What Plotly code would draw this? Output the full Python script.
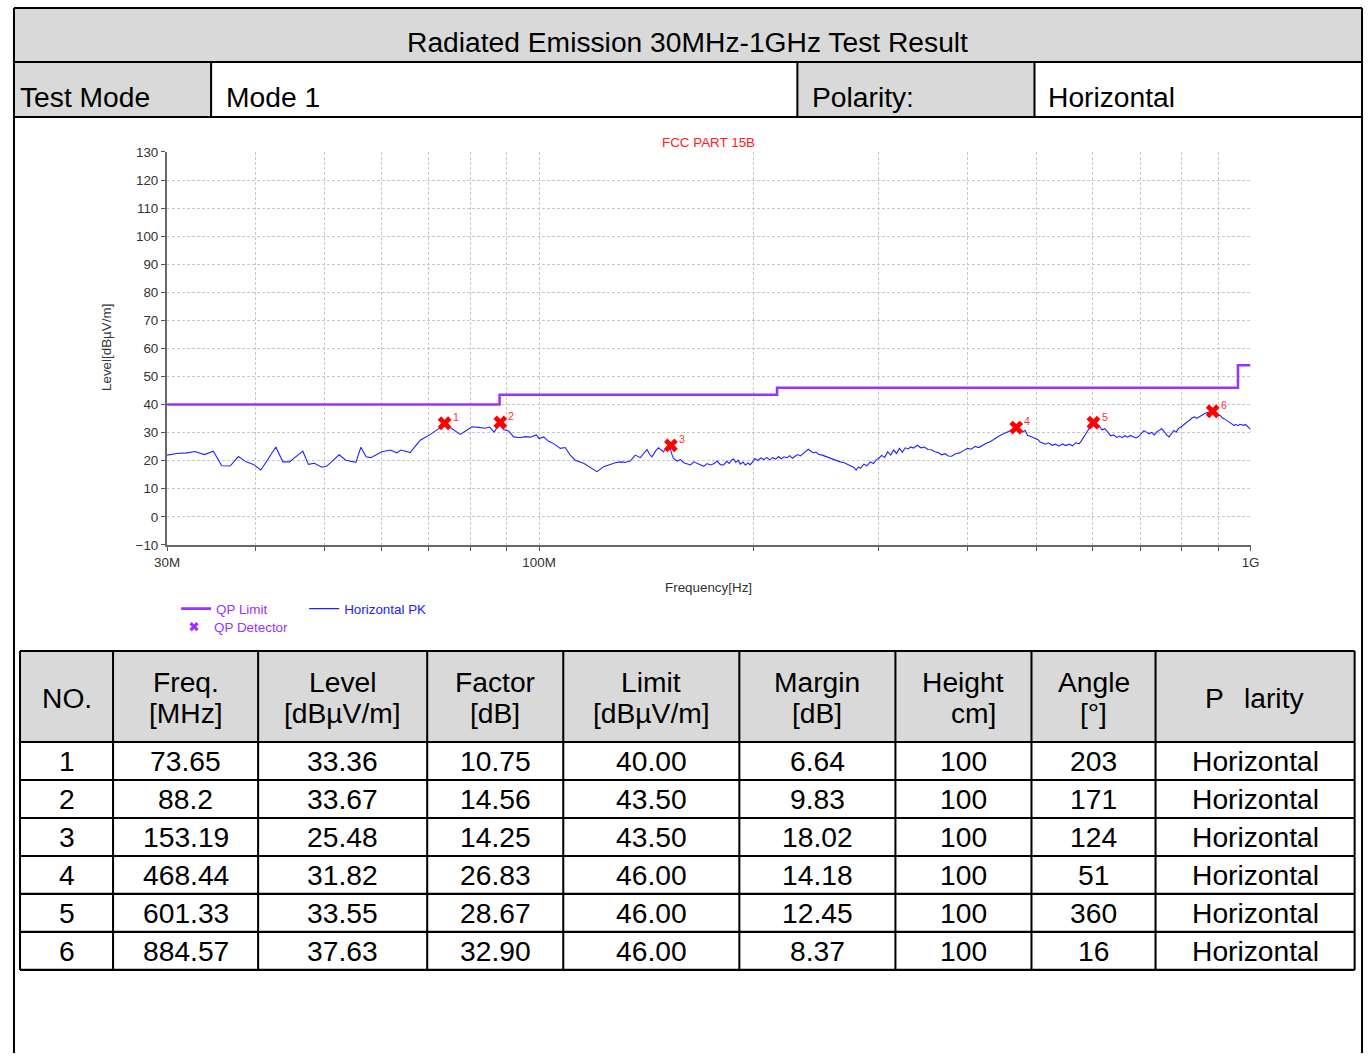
import math
import plotly.graph_objects as go

# The photographed picture shows the page shrunk a little and framed; positions are
# given in target-picture pixels and converted to page pixels below.
FW, FH = 1372, 1062
SX, SY = 0.9835, 0.986
OX, OY = 13.0, 7.0
S = (SX + SY) / 2
FONT = "Liberation Sans, Arial, sans-serif"

# ---------------- data ----------------
pk_freq = [
    30.0, 30.96, 31.98, 32.84, 33.85, 34.85, 35.81, 36.79, 37.79, 38.74,
    39.67, 40.63, 41.65, 42.66, 43.64, 44.57, 46.55, 47.4, 48.33, 49.51,
    50.31, 52.36, 53.5, 55.27, 56.17, 57.14, 58.02, 60.12, 61.76, 63.11,
    63.94, 65.89, 68.06, 70.3, 72.62, 73.6, 74.84, 76.2, 77.47, 78.7,
    80.46, 82.2, 84.0, 85.2, 86.5, 87.8, 89.1, 90.6, 92.1, 94.1,
    95.6, 97.2, 99.1, 100.0, 101.5, 103.1, 104.8, 107.1, 108.8, 110.6,
    112.4, 115.5, 118.0, 120.6, 123.2, 125.9, 128.0, 130.1, 132.0, 134.3,
    136.5, 138.8, 140.5, 141.8, 143.0, 144.1, 145.8, 147.2, 148.5, 149.6,
    151.3, 152.6, 153.5, 154.5, 156.3, 158.0, 159.7, 161.5, 163.2, 165.0,
    166.7, 168.5, 170.3, 172.2, 174.1, 176.0, 177.9, 179.8, 181.7, 183.5,
    185.0, 186.5, 187.7, 189.0, 190.5, 191.8, 193.5, 195.0, 196.5, 198.0,
    199.5, 201, 203, 205, 207, 209, 211, 213, 215, 217,
    219, 221, 223, 225, 227, 229, 231, 233, 235, 237,
    239, 241, 243, 245, 247, 250, 253, 256, 259, 262,
    265, 268, 271, 274, 277, 279, 281, 283, 286, 289,
    292, 295, 298, 300, 303, 306, 309, 312, 315, 318,
    321, 324, 327, 330, 333, 336, 340, 344, 348, 352,
    356, 360, 364, 368, 372, 376, 380, 385, 390, 395,
    400, 405, 410, 415, 420, 425, 430, 435, 440, 445,
    450, 455, 460, 465, 470, 474, 478, 482, 486, 490,
    494, 498, 502, 506, 510, 515, 520, 526, 532, 538,
    544, 550, 556, 562, 568, 574, 578, 584, 590, 596,
    601, 606, 612, 618, 624, 630, 636, 642, 648, 654,
    660, 666, 672, 678, 684, 690, 696, 702, 708, 714,
    720, 726, 732, 738, 744, 750, 756, 762, 768, 774,
    780, 786, 792, 798, 804, 810, 816, 822, 828, 834,
    840, 846, 852, 858, 864, 870, 876, 882, 888, 894,
    900, 906, 912, 918, 924, 930, 936, 942, 948, 954,
    960, 966, 972, 978, 984, 990, 996, 1000,
]
pk_level = [
    22.0, 22.6, 22.8, 23.3, 22.2, 23.4, 18.2, 18.1, 21.5, 19.6,
    18.7, 16.7, 20.8, 24.9, 19.6, 19.6, 23.4, 18.7, 19.1, 17.7,
    18.1, 22.1, 20.2, 19.4, 24.8, 21.4, 21.1, 23.2, 23.8, 22.8,
    23.8, 22.9, 27.3, 29.3, 31.8, 32.8, 32.0, 30.5, 29.4, 30.5,
    32.1, 31.9, 31.6, 32.0, 30.2, 33.0, 31.1, 30.6, 28.5, 28.2,
    28.6, 28.4, 29.2, 27.9, 28.5, 26.9, 26.1, 24.4, 24.7, 22.0,
    20.2, 19.1, 17.5, 16.1, 17.9, 18.7, 19.3, 19.6, 19.4, 19.9,
    22.0, 21.1, 22.6, 24.0, 22.3, 21.4, 23.5, 24.6, 23.8, 23.2,
    24.9, 25.3, 22.6, 20.8, 19.9, 20.4, 19.3, 19.0, 18.5, 19.6,
    19.1, 18.3, 18.0, 19.0, 18.5, 18.9, 19.9, 18.6, 18.5, 19.8,
    19.0, 20.3, 20.6, 19.4, 20.2, 18.8, 19.5, 18.4, 19.2, 18.6,
    19.5, 20.8, 20.1, 21.0, 20.4, 21.2, 20.3, 21.1, 20.6, 21.5,
    20.7, 21.4, 21.0, 21.8, 20.9, 21.6, 22.2, 21.7, 22.6, 23.2,
    24.1, 23.4, 22.8, 23.1, 22.3, 22.0, 21.5, 21.2, 20.6, 20.2,
    19.6, 19.4, 18.7, 18.3, 17.6, 16.7, 17.8, 17.3, 18.8, 18.2,
    19.6, 19.0, 20.4, 20.8, 21.9, 21.2, 23.2, 22.0, 23.8, 22.6,
    24.4, 23.0, 24.6, 24.2, 24.9, 24.5, 25.5, 24.6, 24.9, 24.0,
    23.9, 23.2, 22.9, 22.1, 22.5, 21.7, 21.6, 22.5, 22.8, 23.6,
    24.4, 24.1, 25.1, 24.7, 25.5, 26.2, 26.7, 27.6, 28.2, 29.1,
    29.6, 30.3, 30.9, 31.4, 31.6, 31.0, 30.2, 30.8, 29.0, 28.7,
    28.3, 27.9, 27.6, 26.7, 26.3, 25.9, 26.4, 25.5, 25.9, 25.2,
    26.0, 25.4, 25.9, 25.3, 26.4, 26.0, 27.0, 29.0, 30.6, 32.3,
    33.3, 32.2, 32.6, 31.0, 31.4, 30.2, 28.9, 29.2, 28.3, 28.8,
    28.2, 28.9, 28.4, 29.0, 28.6, 28.1, 28.6, 29.5, 30.7, 30.2,
    29.6, 30.1, 29.2, 30.3, 30.8, 31.4, 30.4, 29.2, 28.5, 29.6,
    30.8, 30.2, 31.5, 32.0, 32.6, 33.1, 33.8, 34.6, 35.3, 35.6,
    35.1, 35.6, 36.1, 36.4, 36.9, 37.2, 37.3, 37.5, 37.2, 36.5,
    36.0, 36.2, 35.3, 35.0, 34.5, 34.2, 33.8, 33.1, 32.6, 32.9,
    32.5, 33.0, 32.8, 32.6, 32.9, 32.2, 31.6, 31.2,
]

limit_freq = [30, 88, 216, 960, 1000]
limit_level = [40, 43.5, 46, 54, 54]

det_no = [1, 2, 3, 4, 5, 6]
det_freq = [73.65, 88.2, 153.19, 468.44, 601.33, 884.57]
det_level = [33.36, 33.67, 25.48, 31.82, 33.55, 37.63]
det_factor = [10.75, 14.56, 14.25, 26.83, 28.67, 32.90]
det_limit = [40.00, 43.50, 43.50, 46.00, 46.00, 46.00]
det_margin = [6.64, 9.83, 18.02, 14.18, 12.45, 8.37]
det_height = [100, 100, 100, 100, 100, 100]
det_angle = [203, 171, 124, 51, 360, 16]
det_pol = ["Horizontal"] * 6

x_tick_vals = [30, 40, 50, 60, 70, 80, 90, 100, 200, 300, 400, 500, 600, 700, 800, 900, 1000]
x_tick_text = ["30M", "", "", "", "", "", "", "100M", "", "", "", "", "", "", "", "", "1G"]
y_tick_vals = [-10, 0, 10, 20, 30, 40, 50, 60, 70, 80, 90, 100, 110, 120, 130]

# ---------------- helpers (target pixel -> paper fraction) ----------------
def px(x):
    p = (x - OX) / SX
    return min(max(p, 1), FW - 1) / FW

def py(y):
    p = (y - OY) / SY
    return 1 - min(max(p, 1), FH - 1) / FH

PURPLE = "#9933ff"
BLUE = "#2222ff"
RED = "#ff0000"
GRAY = "#d9d9d9"
TS = 27.8 / S      # table text size
CS = 13.2 / S      # chart text size

shapes = []
annotations = []

def rect(x0, y0, x1, y1, fill):
    shapes.append(dict(type="rect", xref="paper", yref="paper",
                       x0=px(x0), x1=px(x1), y0=py(y1), y1=py(y0),
                       fillcolor=fill, line=dict(width=0), layer="below"))

def line(x0, y0, x1, y1, w=2):
    shapes.append(dict(type="line", xref="paper", yref="paper",
                       x0=px(x0), x1=px(x1), y0=py(y0), y1=py(y1),
                       line=dict(color="black", width=w / S)))

def text(x, y, s, size=TS, anchor="center", color="black", angle=0):
    annotations.append(dict(x=px(x), y=py(y), xref="paper", yref="paper", text=s,
                            showarrow=False, xanchor=anchor, yanchor="middle",
                            textangle=angle, borderpad=0,
                            font=dict(size=size, color=color, family=FONT)))

# ---------------- header boxes ----------------
rect(5, 5, 1368, 62, GRAY)
rect(5, 62, 211, 117, GRAY)
rect(797, 62, 1034, 117, GRAY)
line(5, 5, 1368, 5)
line(5, 62, 1368, 62)
line(5, 117, 1368, 117)
line(5, 5, 5, 1062)
line(1368, 5, 1368, 1062)
for xv in [211, 797, 1034]:
    line(xv, 62, xv, 117)

text(687, 42, "Radiated Emission 30MHz-1GHz Test Result")
text(19, 97, "Test Mode", anchor="left")
text(225, 97, "Mode 1", anchor="left")
text(811, 97, "Polarity:", anchor="left")
text(1047, 97, "Horizontal", anchor="left")

# ---------------- data table ----------------
col_b = [20, 113, 258, 427, 563, 739, 895, 1031, 1155, 1354]
row_b = [651, 742, 780, 818, 856, 894, 932, 970]
rect(col_b[0], row_b[0], col_b[-1], row_b[1], GRAY)
for yv in row_b:
    line(col_b[0], yv, col_b[-1], yv)
for xv in col_b:
    line(xv, row_b[0], xv, row_b[-1])

centers = [(col_b[i] + col_b[i + 1]) / 2 for i in range(len(col_b) - 1)]
text(centers[0], 698, "NO.")
hdr = [("Freq.", "[MHz]"), ("Level", "[dBµV/m]"), ("Factor", "[dB]"), ("Limit", "[dBµV/m]"),
       ("Margin", "[dB]"), ("Height", "cm]"), ("Angle", "[°]")]
for i, (a, b) in enumerate(hdr):
    cx = centers[i + 1]
    text(cx, 682, a)
    text(cx + (10 if b == "cm]" else 0), 713, b)
text(1214, 698, "P")
text(1273, 698, "larity")

for r in range(len(det_no)):
    cy = (row_b[r + 1] + row_b[r + 2]) / 2
    vals = [str(det_no[r]), str(det_freq[r]), f"{det_level[r]:.2f}", f"{det_factor[r]:.2f}",
            f"{det_limit[r]:.2f}", f"{det_margin[r]:.2f}", str(det_height[r]), str(det_angle[r]),
            det_pol[r]]
    for c, v in enumerate(vals):
        text(centers[c], cy, v)

# marker numbers, placed at the detector points on the data axes
for n, f, lv in zip(det_no, det_freq, det_level):
    annotations.append(dict(x=math.log10(f), y=lv, xref="x", yref="y", text=str(n),
                            showarrow=False, xanchor="left", yanchor="middle",
                            xshift=7 / S, yshift=6 / S, borderpad=0,
                            font=dict(size=10.5 / S, color="#ff3030", family=FONT)))

# ---------------- chart ----------------
fig = go.Figure()
fig.add_trace(go.Scatter(x=limit_freq, y=limit_level, mode="lines", line_shape="hv",
                         line=dict(color=PURPLE, width=2.5 / S),
                         name='<span style="color:#9933ff">QP Limit</span>', legend="legend"))
fig.add_trace(go.Scatter(x=pk_freq, y=pk_level, mode="lines",
                         line=dict(color=BLUE, width=1.1),
                         name='<span style="color:#2222ff">Horizontal PK</span>', legend="legend2"))
fig.add_trace(go.Scatter(x=det_freq, y=det_level, mode="markers",
                         marker=dict(symbol="x", size=12 / S, color=RED, line=dict(width=0)),
                         showlegend=False))
fig.add_trace(go.Scatter(x=[None], y=[None], mode="markers",
                         marker=dict(symbol="x", size=8 / S, color=PURPLE),
                         name='<span style="color:#9933ff">QP Detector</span>', legend="legend3"))

text(708, 143, "FCC PART 15B", size=CS, color="#ff2020")
text(708, 588, "Frequency[Hz]", size=CS, color="#333333")
text(107, 348, "Level[dBµV/m]", size=CS, color="#333333", angle=-90)

axis_font = dict(size=CS, color="#333333", family=FONT)
legend_common = dict(orientation="h", xanchor="left", yanchor="middle",
                     bgcolor="rgba(0,0,0,0)", borderwidth=0,
                     font=dict(size=CS, family=FONT), itemwidth=30)

fig.update_layout(
    width=FW, height=FH,
    margin=dict(l=0, r=0, t=0, b=0),
    paper_bgcolor="white", plot_bgcolor="white",
    font=dict(family=FONT),
    shapes=shapes, annotations=annotations,
    xaxis=dict(type="log", range=[1.4771213, 3.0], domain=[px(167), px(1250)],
               tickvals=x_tick_vals, ticktext=x_tick_text, tickfont=axis_font,
               showgrid=True, gridcolor="#c8c8c8", griddash="3px,2px", gridwidth=1,
               ticks="outside", ticklen=4 / S, tickcolor="#555555",
               showline=True, linecolor="#666666", linewidth=2 / S, zeroline=False),
    yaxis=dict(range=[-10, 130], domain=[py(545), py(152)], tickvals=y_tick_vals,
               tickfont=axis_font, showgrid=True, gridcolor="#c8c8c8",
               griddash="3px,2px", gridwidth=1, ticks="outside", ticklen=4 / S,
               tickcolor="#555555", showline=True, linecolor="#666666", linewidth=2 / S,
               zeroline=False),
    legend=dict(x=px(176), y=py(609), **legend_common),
    legend2=dict(x=px(304), y=py(609), **legend_common),
    legend3=dict(x=px(174), y=py(627), **legend_common),
)

fig.write_html("out.html", config={"displayModeBar": False},
               post_script="document.body.style.margin='0px';")
